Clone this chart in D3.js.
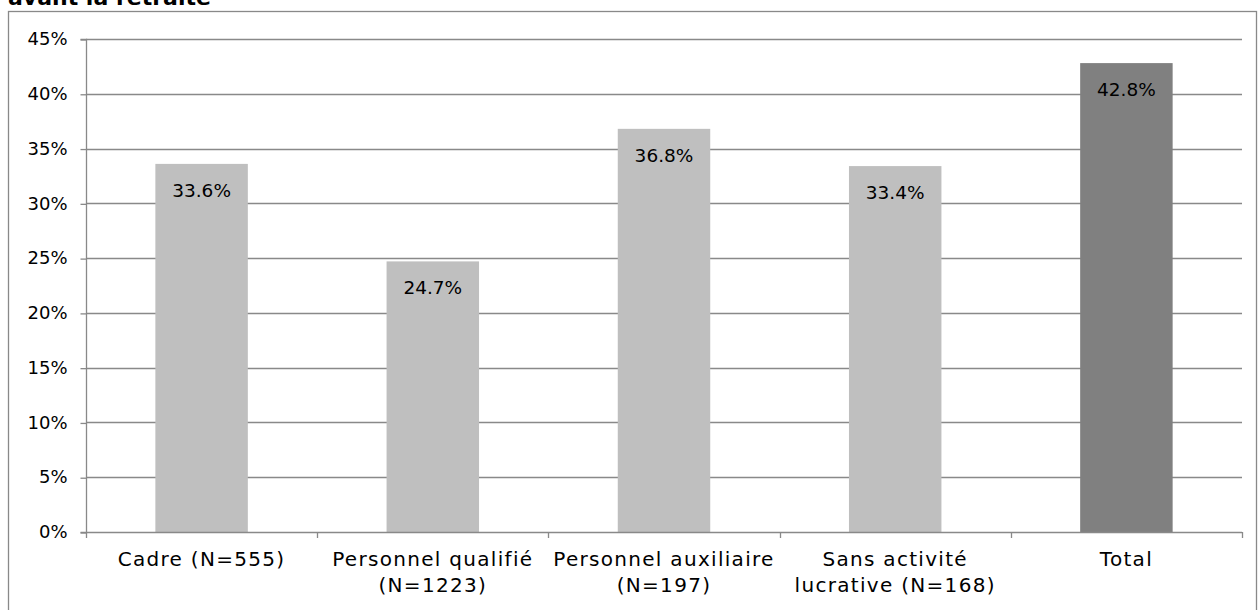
<!DOCTYPE html>
<html><head><meta charset="utf-8">
<script src="https://cdn.jsdelivr.net/npm/d3@7"></script>
<style>body{margin:0;background:#fff;} svg{display:block;font-family:"DejaVu Sans",sans-serif;}</style>
</head><body>
<svg id="c" width="1258" height="610"></svg>
<script>
const categories = [["Cadre (N=555)"], ["Personnel qualifié", "(N=1223)"], ["Personnel auxiliaire", "(N=197)"], ["Sans activité", "lucrative (N=168)"], ["Total"]];
const values = [0.336, 0.247, 0.368, 0.334, 0.428];
const barColors = ["#bfbfbf", "#bfbfbf", "#bfbfbf", "#bfbfbf", "#808080"];
const yTicks = [0, 0.05, 0.10, 0.15, 0.20, 0.25, 0.30, 0.35, 0.40, 0.45];
const title = "avant la retraite";

const svg = d3.select("#c");
const L = 86, R = 1242, T = 39, B = 532;
const x = d3.scaleBand().domain(d3.range(categories.length)).range([L, R]).paddingInner(0.6).paddingOuter(0.3);
const y = d3.scaleLinear().domain([0, 0.45]).range([B, T]);
const axisColor = "#898989";

// frame
svg.append("rect").attr("x", 8.5).attr("y", 11.5).attr("width", 1248).attr("height", 620)
  .attr("fill", "none").attr("stroke", axisColor).attr("stroke-width", 1.3);
svg.append("text").attr("x", 8).attr("y", 5).attr("font-weight", "bold").attr("font-size", 22).text(title);

// gridlines
svg.append("g").selectAll("line").data(yTicks.slice(1)).join("line")
  .attr("x1", L).attr("x2", R).attr("y1", d => Math.round(y(d)) + 0.5).attr("y2", d => Math.round(y(d)) + 0.5)
  .attr("stroke", axisColor).attr("stroke-width", 1.3);

// y axis
const ya = svg.append("g").attr("transform", `translate(${L + 0.5},0)`)
  .call(d3.axisLeft(y).tickValues(yTicks).tickFormat(d3.format(".0%")).tickSize(6).tickPadding(13));
ya.selectAll("path,line").attr("stroke", axisColor).attr("stroke-width", 1.3);
ya.select(".domain").attr("d", `M-6,${T + 0.5}H0V${B + 0.5}H-6`);
ya.selectAll("text").attr("font-size", 18).attr("font-family", "DejaVu Sans").attr("fill", "#000");
ya.selectAll(".tick line").attr("transform", "translate(0,0.5)");

// bars
svg.append("g").selectAll("rect").data(values).join("rect")
  .attr("x", (d, i) => x(i)).attr("width", x.bandwidth())
  .attr("y", d => y(d)).attr("height", d => B - y(d)).attr("fill", (d, i) => barColors[i]);

// x axis
const xb = d3.scaleLinear().domain([0, categories.length]).range([L, R]);
svg.append("line").attr("x1", L).attr("x2", R).attr("y1", B + 0.5).attr("y2", B + 0.5)
  .attr("stroke", axisColor).attr("stroke-width", 1.3);
svg.append("g").selectAll("line").data(d3.range(categories.length + 1)).join("line")
  .attr("x1", d => Math.round(xb(d)) + 0.5).attr("x2", d => Math.round(xb(d)) + 0.5)
  .attr("y1", B).attr("y2", B + 6).attr("stroke", axisColor).attr("stroke-width", 1.3);

// category labels
const cl = svg.append("g").selectAll("text").data(categories).join("text")
  .attr("x", (d, i) => x(i) + x.bandwidth() / 2).attr("y", 566)
  .attr("text-anchor", "middle").attr("font-size", 20).attr("letter-spacing", 1.3).attr("fill", "#000");
cl.selectAll("tspan").data(d => d).join("tspan")
  .attr("x", function() { return this.parentNode.getAttribute("x"); })
  .attr("dy", (d, i) => i === 0 ? 0 : 26).text(d => d);

// value labels
svg.append("g").selectAll("text").data(values).join("text")
  .attr("x", (d, i) => x(i) + x.bandwidth() / 2).attr("y", d => y(d) + 33)
  .attr("text-anchor", "middle").attr("font-size", 18.5).attr("fill", "#000")
  .text(d => d3.format(".1%")(d));
</script>
</body></html>
